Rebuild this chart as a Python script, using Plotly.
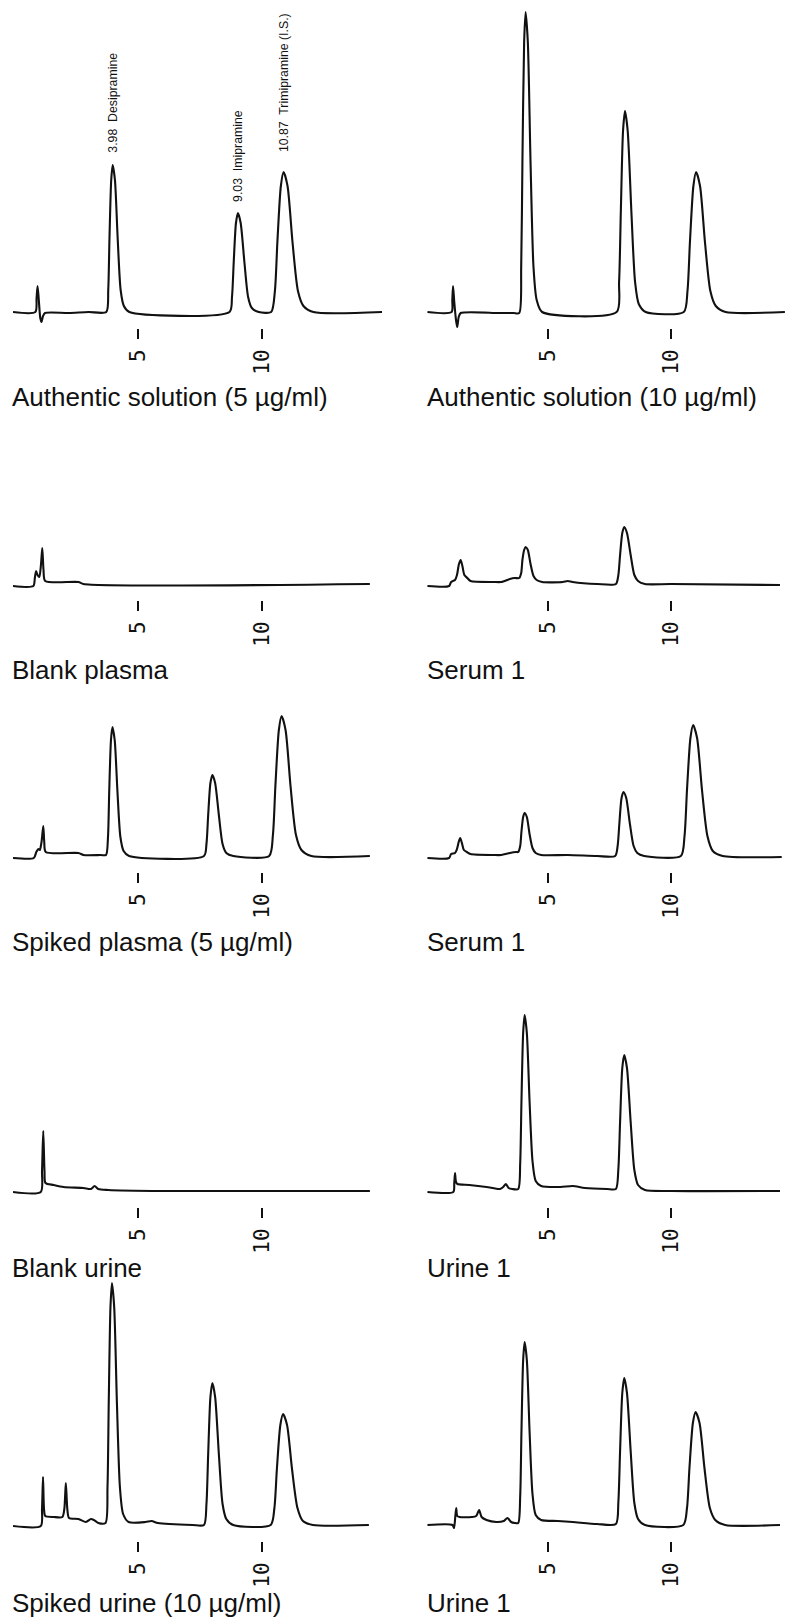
import plotly.graph_objects as go

# ---------------------------------------------------------------------------
# Chromatogram traces: retention time (min) and detector response (a.u.)
# ---------------------------------------------------------------------------
auth5_t = [-0.04, 0.86, 0.91, 0.95, 1.00, 1.06, 1.11, 1.17, 1.25, 2.2, 3.0,
           3.72, 3.80, 3.85, 3.92, 3.98, 4.07, 4.18, 4.30, 4.43, 4.65,
           8.69, 8.79, 8.86, 8.95, 9.03, 9.14, 9.29, 9.44, 9.59, 9.87,
           10.37, 10.52, 10.62, 10.76, 10.87, 11.03, 11.23, 11.45, 11.67, 12.07,
           14.84]
auth5_y = [0, 0, 14, 26, 12, -6, -10, -4, -1, -1, 0,
           0, 22, 74, 132, 147, 132, 74, 22, 6, 0,
           0, 15, 50, 89, 99, 89, 50, 15, 4, 0,
           0, 21, 70, 126, 140, 126, 70, 21, 6, 0,
           0]

auth10_t = [0.10, 1.08, 1.11, 1.14, 1.19, 1.26, 1.31, 1.37, 1.45, 3.0, 3.6,
            3.83, 3.91, 3.96, 4.03, 4.09, 4.18, 4.29, 4.41, 4.54, 4.76,
            7.79, 7.89, 7.96, 8.05, 8.13, 8.24, 8.39, 8.54, 8.69, 8.97,
            10.52, 10.67, 10.77, 10.91, 11.02, 11.18, 11.38, 11.60, 11.82, 12.22,
            14.63]
auth10_y = [0, 0, 12, 26, 10, -8, -15, -5, -1, -1, -1,
            -1, 45, 150, 270, 300, 270, 150, 45, 12, 0,
            0, 30, 100, 181, 201, 181, 100, 30, 8, 0,
            0, 21, 70, 126, 140, 126, 70, 21, 6, 0,
            0]

blank_plasma_t = [-0.04, 0.78, 0.84, 0.89, 0.95, 1.02, 1.09, 1.14, 1.19, 1.26, 2.6, 2.8, 14.35]
blank_plasma_y = [-2, -2, 6, 13, 9, 7, 20, 36, 14, 3, 2, 0, 0]

serum1a_t = [0.10, 0.98, 1.06, 1.22, 1.30, 1.38, 1.45, 1.52, 1.60, 1.72, 1.85, 2.8, 3.1, 3.45, 3.65,
             3.83, 3.91, 3.96, 4.03, 4.09, 4.18, 4.29, 4.41, 4.54, 4.76,
             5.6, 5.8, 6.0, 7.0,
             7.76, 7.86, 7.93, 8.02, 8.10, 8.21, 8.36, 8.51, 8.66, 8.94,
             10.0, 14.43]
serum1a_y = [-2, -2, 2, 4, 9, 20, 24, 18, 9, 6, 3, 2, 2, 5, 6,
             6, 11, 24, 34, 37, 34, 20, 8, 4, 2,
             2, 3, 2, 0,
             0, 9, 29, 51, 57, 51, 29, 9, 3, 0,
             0, -1]

spiked_plasma_t = [-0.04, 0.80, 0.90, 0.98, 1.04, 1.11, 1.18, 1.22, 1.28, 2.6, 2.8, 3.5,
                   3.71, 3.79, 3.84, 3.91, 3.97, 4.06, 4.17, 4.29, 4.42, 4.64,
                   7.66, 7.76, 7.83, 7.92, 8.00, 8.11, 8.26, 8.41, 8.56, 8.84,
                   10.29, 10.44, 10.54, 10.68, 10.79, 10.95, 11.15, 11.37, 11.59, 11.99,
                   14.35]
spiked_plasma_y = [-2, -2, 4, 7, 6, 14, 30, 14, 4, 3, 1, 1,
                   1, 19, 65, 116, 129, 116, 65, 19, 5, 0,
                   0, 12, 41, 73, 81, 73, 41, 12, 3, 0,
                   0, 21, 70, 126, 140, 126, 70, 21, 6, 0,
                   0]

serum1b_t = [0.10, 0.98, 1.06, 1.22, 1.30, 1.37, 1.43, 1.50, 1.58, 1.70, 1.85, 2.8, 3.1, 3.45, 3.70,
             3.79, 3.87, 3.92, 3.99, 4.05, 4.14, 4.25, 4.37, 4.50, 4.72,
             5.8, 7.0,
             7.73, 7.83, 7.90, 7.99, 8.07, 8.18, 8.33, 8.48, 8.63, 8.91,
             10.40, 10.55, 10.65, 10.79, 10.90, 11.06, 11.26, 11.48, 11.70, 12.10,
             14.50]
serum1b_y = [-2, -2, 2, 3, 7, 14, 18, 13, 6, 4, 2, 1, 1, 3, 4,
             4, 10, 24, 39, 43, 39, 22, 8, 3, 1,
             1, 0,
             0, 10, 32, 58, 64, 58, 32, 10, 3, 0,
             0, 20, 66, 118, 131, 118, 66, 20, 5, 0,
             -1]

blank_urine_t = [-0.04, 1.08, 1.13, 1.18, 1.23, 1.27, 1.6, 2.0, 2.8, 3.1, 3.25, 3.4, 3.8, 6.0, 14.35]
blank_urine_y = [-1, -1, 20, 60, 20, 8, 6, 4, 3, 2, 5, 2, 1, 0, 0]

urine1a_t = [0.10, 1.15, 1.19, 1.22, 1.26, 1.32, 1.8, 2.5, 3.05, 3.18, 3.29, 3.40, 3.55,
             3.79, 3.87, 3.92, 3.99, 4.05, 4.14, 4.25, 4.37, 4.50, 4.72,
             5.5, 6.0, 6.5, 7.4,
             7.76, 7.86, 7.93, 8.02, 8.10, 8.21, 8.36, 8.51, 8.66, 8.94,
             10.0, 14.43]
urine1a_y = [-1, -1, 8, 18, 9, 7, 6, 4, 2, 4, 7, 3, 2,
             2, 28, 88, 158, 176, 158, 90, 30, 10, 5,
             4, 5, 3, 2,
             2, 22, 69, 123, 136, 123, 69, 21, 6, 1,
             0, 0]

spiked_urine_t = [-0.04, 1.08, 1.13, 1.17, 1.21, 1.26, 1.6, 1.95, 2.03, 2.09, 2.15, 2.22, 2.6, 2.9, 3.1, 3.22, 3.4,
                  3.69, 3.77, 3.82, 3.89, 3.95, 4.04, 4.15, 4.27, 4.40, 4.62,
                  5.3, 5.55, 5.8, 7.2,
                  7.66, 7.76, 7.83, 7.92, 8.00, 8.11, 8.26, 8.41, 8.56, 8.84,
                  10.35, 10.50, 10.60, 10.74, 10.85, 11.01, 11.21, 11.43, 11.65, 12.05,
                  14.31]
spiked_urine_y = [-1, -1, 16, 48, 16, 9, 8, 8, 16, 42, 16, 7, 6, 3, 6, 5, 2,
                  2, 38, 122, 218, 242, 218, 122, 38, 11, 3,
                  3, 4, 2, 0,
                  0, 21, 71, 128, 142, 128, 71, 21, 6, 0,
                  0, 17, 56, 100, 111, 100, 56, 17, 4, 0,
                  0]

urine1b_t = [0.10, 1.12, 1.18, 1.23, 1.27, 1.31, 1.4, 1.9, 2.08, 2.2, 2.3, 2.5, 2.9, 3.2, 3.35, 3.5, 3.65,
             3.79, 3.87, 3.92, 3.99, 4.05, 4.14, 4.25, 4.37, 4.50, 4.72,
             5.4, 6.0, 7.0,
             7.76, 7.86, 7.93, 8.02, 8.10, 8.21, 8.36, 8.51, 8.66, 8.94,
             10.50, 10.65, 10.75, 10.89, 11.00, 11.16, 11.36, 11.58, 11.80, 12.20,
             14.43]
urine1b_y = [0, 0, -3, 8, 17, 9, 8, 8, 9, 15, 8, 5, 3, 4, 7, 3, 2,
             2, 29, 92, 165, 183, 165, 94, 31, 10, 5,
             4, 3, 1,
             1, 23, 74, 132, 147, 132, 74, 22, 6, 0,
             0, 17, 57, 102, 113, 102, 57, 17, 5, 0,
             0]

panel_titles = [
    "Authentic solution (5 µg/ml)", "Authentic solution (10 µg/ml)",
    "Blank plasma", "Serum 1",
    "Spiked plasma (5 µg/ml)", "Serum 1",
    "Blank urine", "Urine 1",
    "Spiked urine (10 µg/ml)", "Urine 1",
]
panel_traces = [
    (auth5_t, auth5_y), (auth10_t, auth10_y),
    (blank_plasma_t, blank_plasma_y), (serum1a_t, serum1a_y),
    (spiked_plasma_t, spiked_plasma_y), (serum1b_t, serum1b_y),
    (blank_urine_t, blank_urine_y), (urine1a_t, urine1a_y),
    (spiked_urine_t, spiked_urine_y), (urine1b_t, urine1b_y),
]

# Integrator peak labels printed on the first chromatogram
peak_names = ["Desipramine", "Imipramine", "Trimipramine (I.S.)"]
peak_rt = [3.98, 9.03, 10.87]
peak_height = [147, 99, 140]

tick_vals = [5, 10]
tick_text = ["5", "10"]

# ---------------------------------------------------------------------------
# Page geometry (pixels)
# ---------------------------------------------------------------------------
W, H = 787, 1618
ROW_BASE = [312, 584, 856, 1191, 1525]   # baseline of each row
ROW_HEAD = [306, 150, 150, 190, 250]     # headroom above baseline
TITLE_Y = [397, 670, 942, 1268, 1603]
BELOW = 16                               # room under the baseline
COL_ORIGIN = [14.0, 425.0]               # pixel position of t = 0
COL_PX_PER_MIN = [24.8, 24.6]
COL_EDGE = [(13, 384), (425, 787)]
TITLE_X = [10, 425]
LABEL_LIFT = [10, 9, 18]

LINE = "#111111"
fig = go.Figure()
layout = dict(
    width=W, height=H,
    margin=dict(l=0, r=0, t=0, b=0),
    paper_bgcolor="white", plot_bgcolor="white",
    showlegend=False,
)
annotations = []

for k, (tt, yy) in enumerate(panel_traces):
    row, col = divmod(k, 2)
    suffix = "" if k == 0 else str(k + 1)
    xa, ya = "x" + suffix, "y" + suffix

    fig.add_trace(go.Scatter(
        x=tt, y=yy, xaxis=xa, yaxis=ya, mode="lines",
        line=dict(color=LINE, width=2.1, shape="spline", smoothing=0.7),
        hoverinfo="skip",
    ))

    e0, e1 = COL_EDGE[col]
    org, ppm = COL_ORIGIN[col], COL_PX_PER_MIN[col]
    base, head = ROW_BASE[row], ROW_HEAD[row]

    layout["xaxis" + suffix] = dict(
        domain=[e0 / W, e1 / W],
        range=[(e0 - org) / ppm, (e1 - org) / ppm],
        anchor=ya,
        showgrid=False, zeroline=False, showline=False,
        ticks="outside", ticklen=10, tickwidth=1.6, tickcolor=LINE,
        tickvals=tick_vals, ticktext=tick_text, tickangle=-90,
        tickfont=dict(family="DejaVu Sans Mono", size=21, color=LINE),
        ticklabelstandoff=2,
        fixedrange=True,
    )
    layout["yaxis" + suffix] = dict(
        domain=[1 - (base + BELOW) / H, 1 - (base - head) / H],
        range=[-BELOW, head],
        anchor=xa,
        visible=False, fixedrange=True,
    )

    annotations.append(dict(
        xref="paper", yref="paper",
        x=TITLE_X[col] / W, y=1 - TITLE_Y[row] / H,
        xanchor="left", yanchor="middle", showarrow=False,
        text=panel_titles[k],
        font=dict(family="Liberation Sans, Arial, sans-serif", size=26, color="#111111"),
    ))

for name, rt, h, lift in zip(peak_names, peak_rt, peak_height, LABEL_LIFT):
    annotations.append(dict(
        xref="x", yref="y", x=rt, y=h,
        text=f"{rt:.2f}\u00a0 {name}",
        textangle=-90, xanchor="center", yanchor="bottom",
        yshift=lift, showarrow=False,
        font=dict(family="Liberation Sans, Arial, sans-serif", size=12.3, color="#111111"),
    ))

layout["annotations"] = annotations
fig.update_layout(**layout)
fig.write_html("out.html")
